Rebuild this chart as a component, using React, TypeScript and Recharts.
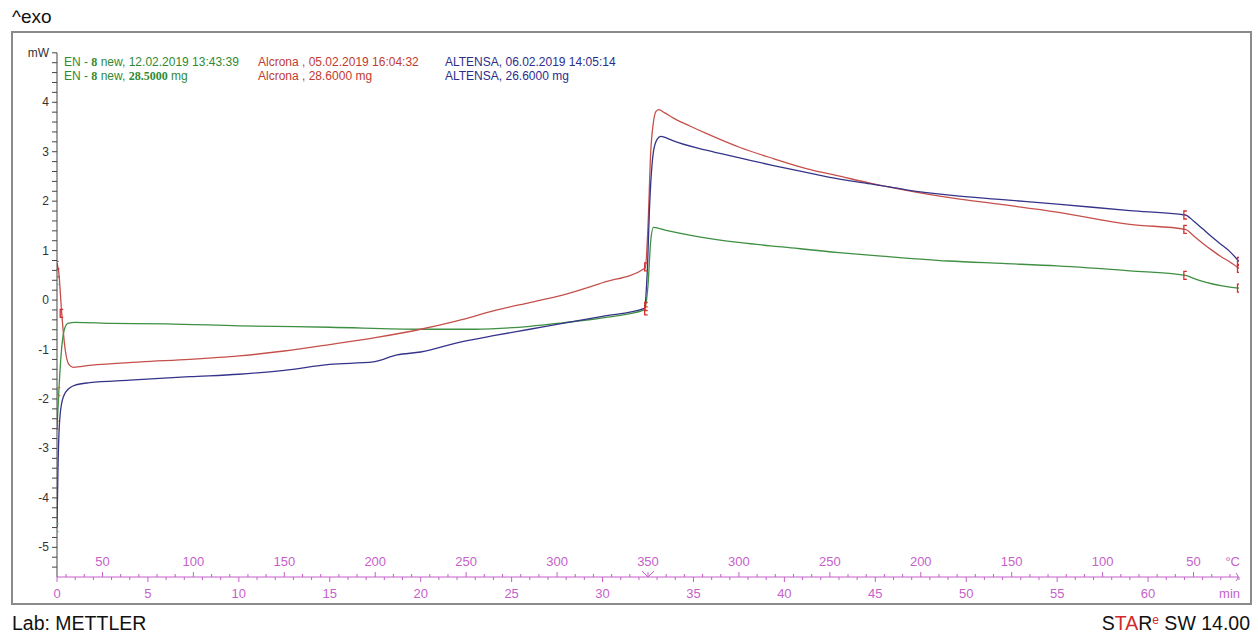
import React from 'react';
import { ComposedChart, Line, XAxis, YAxis, Scatter } from 'recharts';

// ---- data (time in min, heat flow in mW) ----
const enTime = [0, 0.1, 0.25, 0.4, 0.6, 1, 3, 6, 10, 15, 20, 23, 26, 27.8, 30, 32.3, 32.5, 32.65, 32.8, 33.5, 35, 37.6, 40, 43, 45, 49, 52, 55, 59, 62.05, 62.5, 63, 63.5, 64, 64.5, 65];
const enMw = [-2.6, -1.85, -1.0, -0.6, -0.47, -0.45, -0.47, -0.48, -0.52, -0.55, -0.59, -0.59, -0.53, -0.46, -0.36, -0.2, 0.3, 1.2, 1.47, 1.41, 1.3, 1.16, 1.07, 0.96, 0.9, 0.79, 0.74, 0.69, 0.59, 0.5, 0.44, 0.38, 0.33, 0.29, 0.26, 0.24];

const alTime = [0, 0.1, 0.26, 0.45, 0.65, 0.9, 1.8, 4.6, 7.3, 10, 12.5, 15, 17.5, 20, 22, 24.2, 26, 27.8, 30, 32.35, 32.5, 32.65, 32.8, 32.95, 33.1, 33.4, 33.9, 34.8, 35.7, 37.6, 39.4, 41.2, 43.1, 44.9, 46.7, 49.1, 52, 55, 59, 62.05, 62.5, 63, 63.5, 64, 64.5, 65];
const alMw = [0.75, 0.55, -0.27, -1.0, -1.3, -1.36, -1.32, -1.25, -1.2, -1.13, -1.03, -0.9, -0.76, -0.59, -0.42, -0.2, -0.05, 0.1, 0.35, 0.65, 1.5, 3.0, 3.6, 3.82, 3.85, 3.79, 3.68, 3.52, 3.37, 3.08, 2.86, 2.66, 2.5, 2.35, 2.22, 2.07, 1.93, 1.78, 1.53, 1.43, 1.3, 1.15, 1.01, 0.88, 0.77, 0.64];

const atTime = [0, 0.05, 0.12, 0.25, 0.5, 1, 1.8, 4, 7.3, 10, 12.5, 15, 17.4, 18.7, 20, 22.3, 24, 26, 27.8, 30, 32.3, 32.45, 32.6, 32.8, 33.0, 33.2, 33.5, 33.9, 35.7, 37.6, 39.4, 41.2, 43.1, 44.9, 46.7, 49.1, 52, 55, 59, 62.05, 62.5, 63, 63.5, 64, 64.5, 65];
const atMw = [-4.6, -3.5, -2.6, -2.1, -1.85, -1.72, -1.67, -1.62, -1.55, -1.5, -1.42, -1.3, -1.25, -1.11, -1.05, -0.84, -0.72, -0.59, -0.47, -0.33, -0.17, 0.5, 2.0, 3.0, 3.25, 3.31, 3.28, 3.22, 3.03, 2.87, 2.72, 2.58, 2.44, 2.34, 2.23, 2.12, 2.03, 1.94, 1.81, 1.72, 1.6, 1.44, 1.28, 1.13, 0.98, 0.78];

// segment markers
const redMarkTime = [0, 0.05, 0.26, 0, 32.4, 32.4, 32.4, 62.05, 62.05, 62.05, 65, 65, 65];
const redMarkMw = [0.7, 0.55, -0.27, -2.53, 0.67, -0.13, -0.22, 1.72, 1.43, 0.5, 0.78, 0.64, 0.24];
const orangeMarkTime = [0.1];
const orangeMarkMw = [-1.85];
const tealMarkTime = [0, 0];
const tealMarkMw = [0.4, -4.6];

// axis labels
const yMajorTicks = [-5, -4, -3, -2, -1, 0, 1, 2, 3, 4];
const yUnitLabel = 'mW';
const timeLabelTimes = [0, 5, 10, 15, 20, 25, 30, 35, 40, 45, 50, 55, 60];
const tempLabelTimes = [2.5, 7.5, 12.5, 17.5, 22.5, 27.5, 32.5, 37.5, 42.5, 47.5, 52.5, 57.5, 62.5];
const tempLabels = ['50', '100', '150', '200', '250', '300', '350', '300', '250', '200', '150', '100', '50'];

const zip = (ts: number[], vs: number[]) => ts.map((t, i) => ({ t, v: vs[i] }));
const enData = zip(enTime, enMw);
const alData = zip(alTime, alMw);
const atData = zip(atTime, atMw);
const redMarks = zip(redMarkTime, redMarkMw);
const orangeMarks = zip(orangeMarkTime, orangeMarkMw);
const tealMarks = zip(tealMarkTime, tealMarkMw);

const yTicks: number[] = [];
for (let i = -27; i <= 24; i++) yTicks.push(Math.round(i * 2) / 10);
yTicks.push(5);
const xTicks: number[] = [];
for (let i = 0; i <= 130; i++) xTicks.push(i / 2);

const MAG = '#c65fcb';
const FONT = '"Liberation Sans", Arial, sans-serif';

const isInt = (v: number) => Math.abs(v - Math.round(v)) < 1e-6;

const YTick = (props: any) => {
  const { x, y, payload } = props;
  const v = payload.value;
  let label: string | null = null;
  if (Math.abs(v - 5) < 1e-6) label = yUnitLabel;
  else if (yMajorTicks.some((m) => Math.abs(m - v) < 1e-6)) label = String(Math.round(v));
  return (
    <g>
      <line x1={x - 5} x2={x} y1={y} y2={y} stroke="#444" strokeWidth={1} />
      {label !== null && (
        <text x={x - 8} y={y + 4} textAnchor="end" fontSize={12} fontFamily={FONT} fill="#333">
          {label}
        </text>
      )}
    </g>
  );
};

const XTick = (props: any) => {
  const { x, y, payload } = props;
  const v = payload.value;
  const els: any[] = [];
  if (isInt(v)) {
    const major = timeLabelTimes.some((m) => Math.abs(m - v) < 1e-6);
    els.push(<line key="l" x1={x} x2={x} y1={y} y2={y + (major ? 5 : 3)} stroke={MAG} strokeWidth={1} />);
    if (major) {
      els.push(
        <text key="t" x={x} y={y + 21} textAnchor="middle" fontSize={13} fontFamily={FONT} fill={MAG}>
          {String(v)}
        </text>
      );
    }
    if (Math.abs(v - 65) < 1e-6) {
      els.push(
        <text key="u1" x={x + 1} y={y + 21} textAnchor="end" fontSize={13} fontFamily={FONT} fill={MAG}>min</text>
      );
      els.push(
        <text key="u2" x={x + 1} y={y - 11} textAnchor="end" fontSize={13} fontFamily={FONT} fill={MAG}>°C</text>
      );
      els.push(<path key="arr" d={`M${x - 3},${y - 4} Q${x + 1},${y} ${x - 3},${y + 4}`} stroke={MAG} fill="none" strokeWidth={1} />);
    }
  } else {
    const idx = tempLabelTimes.findIndex((m) => Math.abs(m - v) < 1e-6);
    els.push(<line key="l" x1={x} x2={x} y1={y} y2={y - (idx >= 0 ? 5 : 3)} stroke={MAG} strokeWidth={1} />);
    if (idx >= 0) {
      els.push(
        <text key="t" x={x} y={y - 11} textAnchor="middle" fontSize={13} fontFamily={FONT} fill={MAG}>
          {tempLabels[idx]}
        </text>
      );
    }
    if (Math.abs(v - 32.5) < 1e-6) {
      els.push(<path key="v" d={`M${x - 6},${y - 6} L${x},${y} L${x + 6},${y - 6}`} stroke={MAG} fill="none" strokeWidth={1} />);
    }
  }
  return <g>{els}</g>;
};

const bracket = (color: string) => (props: any) => {
  const { cx, cy } = props;
  if (cx == null || cy == null) return <g />;
  return (
    <path
      d={`M${cx + 1.5},${cy - 4} L${cx - 1.5},${cy - 4} L${cx - 1.5},${cy + 4} L${cx + 1.5},${cy + 4}`}
      stroke={color}
      strokeWidth={1.3}
      fill="none"
    />
  );
};

const legendStyle: React.CSSProperties = {
  position: 'absolute',
  top: 55,
  fontFamily: FONT,
  fontSize: 12,
  lineHeight: '14px',
  whiteSpace: 'nowrap',
};
const serif: React.CSSProperties = { fontFamily: '"Liberation Serif", "DejaVu Serif", serif', fontWeight: 'bold' };

export default function App() {
  return (
    <div style={{ position: 'absolute', left: 0, top: 0, width: 1258, height: 634, background: '#fff', overflow: 'hidden' }}>
      <div style={{ position: 'absolute', left: 12, top: 7, fontFamily: FONT, fontSize: 19, lineHeight: '20px', color: '#111' }}>^exo</div>
      <div style={{ position: 'absolute', left: 11, top: 31, width: 1241, height: 574, boxSizing: 'border-box', border: '2px solid #8a8a8a' }} />
      <div style={{ position: 'absolute', left: 12, top: 613, fontFamily: FONT, fontSize: 19.5, lineHeight: '20px', color: '#111' }}>Lab: METTLER</div>
      <div style={{ position: 'absolute', right: 8, top: 613, fontFamily: FONT, fontSize: 19.5, lineHeight: '20px', color: '#111', whiteSpace: 'nowrap' }}>
        S<span style={{ color: '#d02a2a' }}>TA</span>R<sup style={{ fontSize: 12, color: '#d02a2a', verticalAlign: 'top', lineHeight: '14px' }}>e</sup> SW 14.00
      </div>

      <div style={{ position: 'absolute', left: 0, top: 0 }}>
        <ComposedChart width={1258} height={634} margin={{ top: 52.8, right: 19, bottom: 17, left: 0 }}>
          <XAxis
            type="number"
            dataKey="t"
            domain={[0, 65]}
            allowDataOverflow
            ticks={xTicks}
            interval={0}
            tick={<XTick />}
            tickLine={false}
            tickSize={0}
            tickMargin={0}
            height={40}
            axisLine={{ stroke: MAG, strokeWidth: 1 }}
          />
          <YAxis
            type="number"
            dataKey="v"
            domain={[-5.6, 5]}
            allowDataOverflow
            ticks={yTicks}
            interval={0}
            tick={<YTick />}
            tickLine={false}
            tickSize={0}
            tickMargin={0}
            width={57}
            axisLine={{ stroke: '#444', strokeWidth: 1 }}
          />
          <Line data={enData} dataKey="v" type="monotone" stroke="#3e8f42" strokeWidth={1.3} dot={false} isAnimationActive={false} />
          <Line data={alData} dataKey="v" type="monotone" stroke="#c5504b" strokeWidth={1.3} dot={false} isAnimationActive={false} />
          <Line data={atData} dataKey="v" type="monotone" stroke="#34348a" strokeWidth={1.3} dot={false} isAnimationActive={false} />
          <Scatter data={redMarks} dataKey="v" shape={bracket('#d23030')} isAnimationActive={false} />
          <Scatter data={orangeMarks} dataKey="v" shape={bracket('#c8703c')} isAnimationActive={false} />
          <Scatter data={tealMarks} dataKey="v" shape={bracket('#3fa2b0')} isAnimationActive={false} />
        </ComposedChart>
      </div>

      <div style={{ ...legendStyle, left: 64, color: '#2f8a35' }}>
        <div>EN - <span style={serif}>8</span> new, 12.02.2019 13:43:39</div>
        <div>EN - <span style={serif}>8</span> new, <span style={serif}>28.5000</span> mg</div>
      </div>
      <div style={{ ...legendStyle, left: 258, color: '#c23a32' }}>
        <div>Alcrona , 05.02.2019 16:04:32</div>
        <div>Alcrona , 28.6000 mg</div>
      </div>
      <div style={{ ...legendStyle, left: 445, color: '#2d2d8c' }}>
        <div>ALTENSA, 06.02.2019 14:05:14</div>
        <div>ALTENSA, 26.6000 mg</div>
      </div>
    </div>
  );
}
